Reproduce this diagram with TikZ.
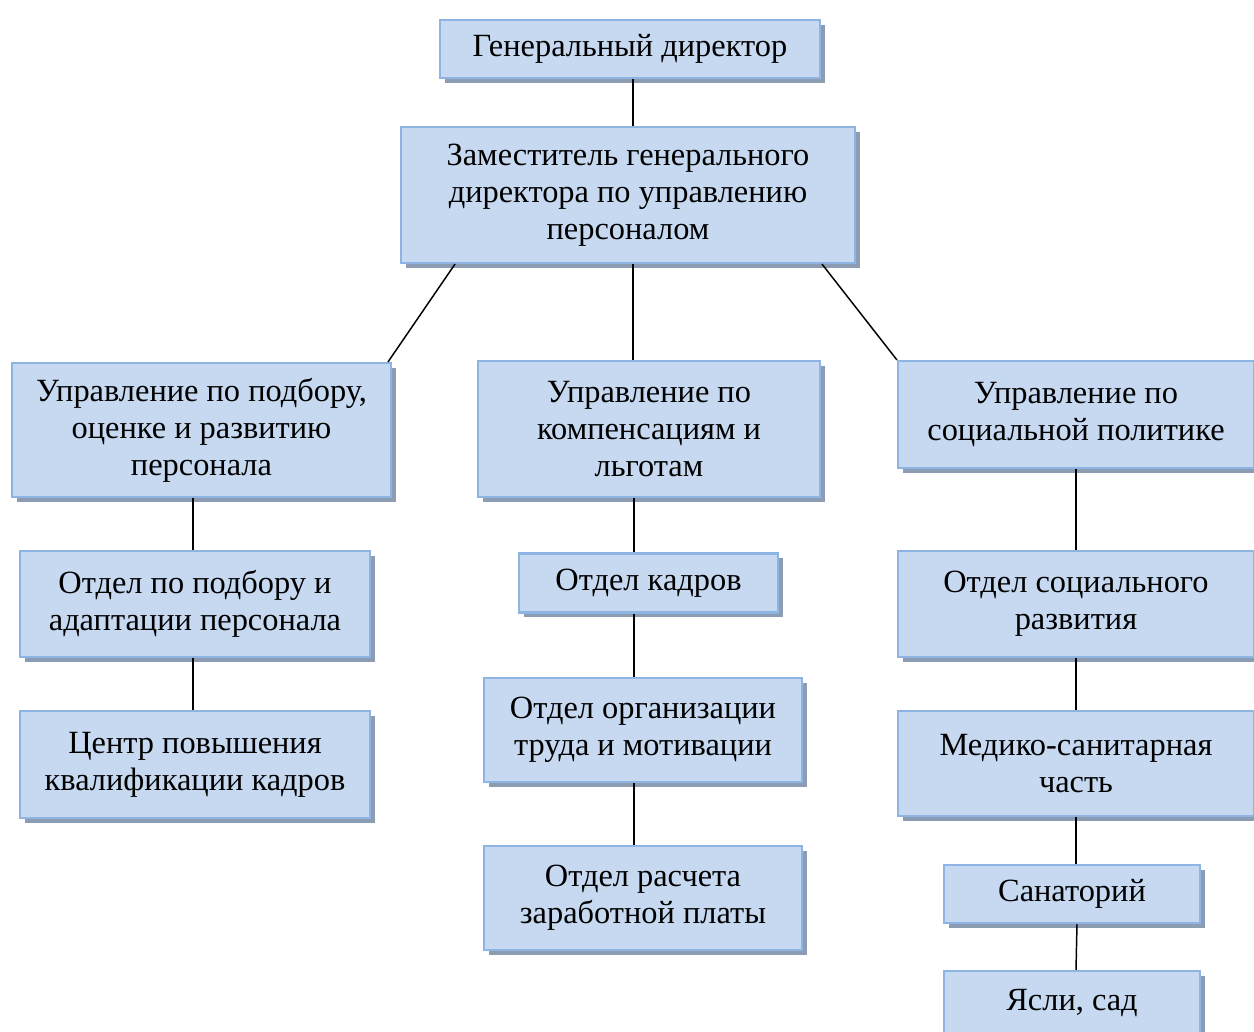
\documentclass[tikz,border=0pt]{standalone}
\usepackage{fontspec}
\setmainfont{Liberation Serif}
\usetikzlibrary{shadows}
\definecolor{boxfill}{HTML}{C6D9F1}
\definecolor{boxline}{HTML}{8DB4E2}
\definecolor{shadowc}{HTML}{8C9CB3}
\begin{document}
\begin{tikzpicture}[x=0.75pt,y=-0.75pt,
  orgbox/.style={rectangle, draw=boxline, line width=1.6pt, fill=boxfill,
    inner sep=0pt, align=center,
    font=\fontsize{24.3pt}{27.75pt}\selectfont,
    drop shadow={shadow xshift=3.5pt, shadow yshift=-3.5pt, fill=shadowc, opacity=1}},
  link/.style={draw=black, line width=1.1pt}]
\useasboundingbox (0,0) rectangle (1254,1032);
\fill[white] (0,0) rectangle (1254,1032);

\node[orgbox, minimum width=285pt, minimum height=43.5pt] (gd) at (630,49) {Генеральный директор};
\node[orgbox, minimum width=340.5pt, minimum height=102pt] (zam) at (628,195) {Заместитель генерального\\директора по управлению\\персоналом};
\node[orgbox, minimum width=284.25pt, minimum height=100.5pt] (L) at (201.5,430) {Управление по подбору,\\оценке и развитию\\персонала};
\node[orgbox, minimum width=256.5pt, minimum height=102pt] (M) at (649,429) {Управление по\\компенсациям и\\льготам};
\node[orgbox, minimum width=267pt, minimum height=80.25pt] (R) at (1076,414.5) {Управление по\\социальной политике};
\node[orgbox, minimum width=262.5pt, minimum height=79.5pt] (L1) at (195,604) {Отдел по подбору и\\адаптации персонала};
\node[orgbox, minimum width=262.5pt, minimum height=80.25pt] (L2) at (195,764.5) {Центр повышения\\квалификации кадров};
\node[orgbox, minimum width=194.25pt, minimum height=44.25pt] (M1) at (648.5,583) {Отдел кадров};
\node[orgbox, minimum width=238.5pt, minimum height=78pt] (M2) at (643,730) {Отдел организации\\труда и мотивации};
\node[orgbox, minimum width=238.5pt, minimum height=78pt] (M3) at (643,898) {Отдел расчета\\заработной платы};
\node[orgbox, minimum width=267pt, minimum height=79.5pt] (R1) at (1076,604) {Отдел социального\\развития};
\node[orgbox, minimum width=267pt, minimum height=78.75pt] (R2) at (1076,763.5) {Медико-санитарная\\часть};
\node[orgbox, minimum width=192pt, minimum height=43.5pt] (R3) at (1072,894) {Санаторий};
\node[orgbox, minimum width=192pt, minimum height=48pt, text depth=0pt] (R4) at (1072,1003) {\raisebox{4pt}{Ясли, сад}};

\coordinate (cx) at (633,0);
\coordinate (cL) at (193,0);
\coordinate (cM) at (634,0);
\coordinate (cR) at (1076,0);
\coordinate (cR2) at (1077,0);
\coordinate (dl) at (455,0);
\coordinate (dr) at (822,0);
\coordinate (dL) at (388,0);

\draw[link] (gd.south -| cx) -- (zam.north -| cx);
\draw[link] (zam.south -| dl) -- (L.north -| dL);
\draw[link] (zam.south -| cx) -- (M.north -| cx);
\draw[link] (zam.south -| dr) -- (R.north west);
\draw[link] (L.south -| cL) -- (L1.north -| cL);
\draw[link] (L1.south -| cL) -- (L2.north -| cL);
\draw[link] (M.south -| cM) -- (M1.north -| cM);
\draw[link] (M1.south -| cM) -- (M2.north -| cM);
\draw[link] (M2.south -| cM) -- (M3.north -| cM);
\draw[link] (R.south -| cR) -- (R1.north -| cR);
\draw[link] (R1.south -| cR) -- (R2.north -| cR);
\draw[link] (R2.south -| cR) -- (R3.north -| cR);
\draw[link] (R3.south -| cR2) -- (R4.north -| cR);
\end{tikzpicture}
\end{document}
